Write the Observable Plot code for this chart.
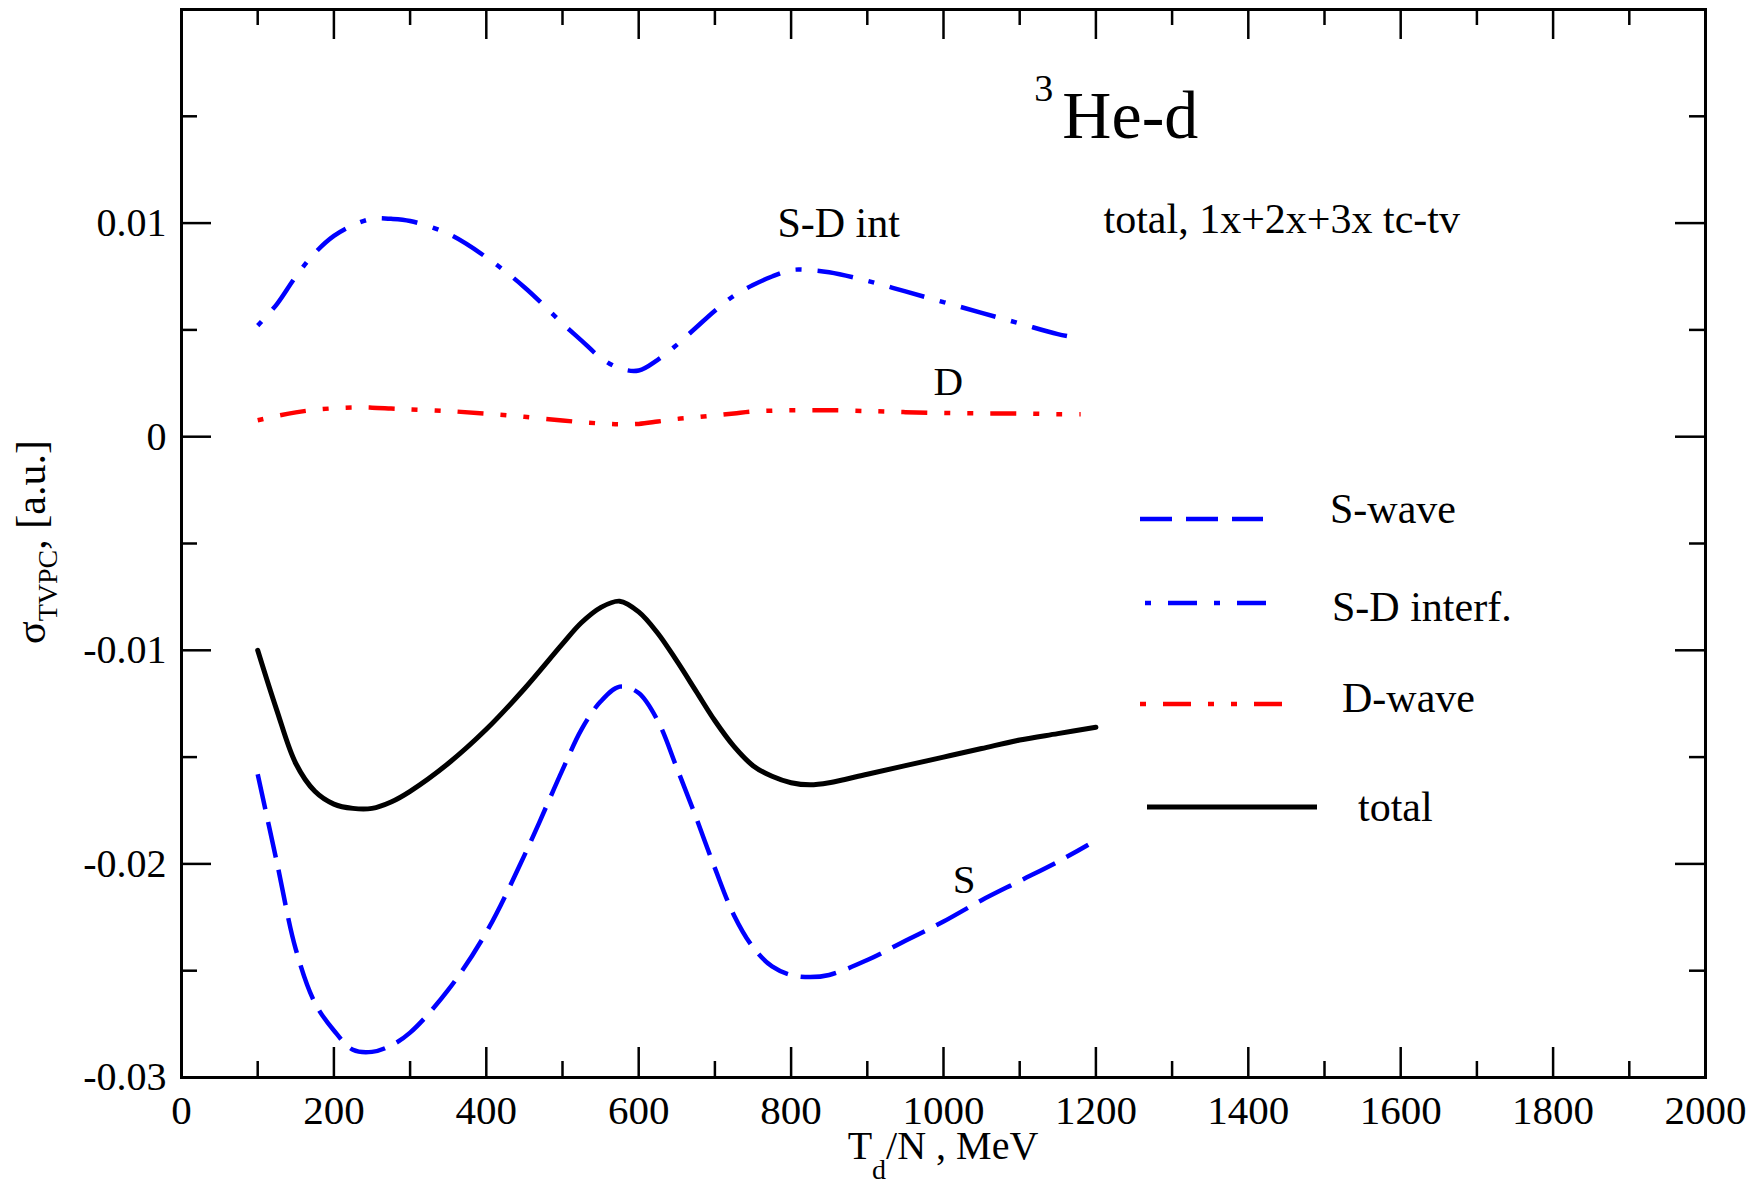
<!DOCTYPE html>
<html>
<head>
<meta charset="utf-8">
<script src="https://cdn.jsdelivr.net/npm/d3@7"></script>
<script src="https://cdn.jsdelivr.net/npm/@observablehq/plot@0.6"></script>
<style>
  html, body { margin: 0; padding: 0; background: #fff; }
  #chart svg { display: block; }
</style>
</head>
<body>
<div id="chart"></div>
<script>
// ---- data ----
const energy = [100,125,150,175,200,225,250,275,300,350,400,450,500,525,550,575,600,625,650,675,700,725,750,775,800,825,850,900,950,1000,1050,1100,1150];
const energyS = [...energy, 1190];
const energySD = [...energy, 1180];
const energyD = [...energy, 1180];
const energyTotal = [...energy, 1200];

const sWave = [-0.0158,-0.0199,-0.0240,-0.0265,-0.0278,-0.0287,-0.0288,-0.0285,-0.0279,-0.0259,-0.0232,-0.0196,-0.0156,-0.0137,-0.0124,-0.0117,-0.0120,-0.0133,-0.0155,-0.0178,-0.0202,-0.0224,-0.0239,-0.0248,-0.0252,-0.0253,-0.0252,-0.0245,-0.0236,-0.0227,-0.0217,-0.0208,-0.0199,-0.0191];
const sdInterf = [0.0052,0.0062,0.0075,0.0086,0.0094,0.0099,0.0102,0.0102,0.0101,0.0095,0.0084,0.0070,0.0053,0.0045,0.0037,0.0032,0.0031,0.0036,0.0043,0.0051,0.0059,0.0066,0.0071,0.0075,0.0078,0.0078,0.0077,0.0073,0.0068,0.0063,0.0058,0.0053,0.0048,0.0046];
const dWave = [0.00077,0.00097,0.00114,0.00126,0.00133,0.00137,0.00136,0.00132,0.00128,0.0012,0.00108,0.00093,0.00076,0.00068,0.00062,0.00058,0.0006,0.00071,0.00083,0.00091,0.001,0.00109,0.00118,0.00122,0.00124,0.00124,0.00124,0.0012,0.00115,0.00111,0.00109,0.00109,0.00105,0.00105];
const total = [-0.0100,-0.0128,-0.0153,-0.0166,-0.0172,-0.0174,-0.0174,-0.0171,-0.0166,-0.0153,-0.0137,-0.0118,-0.0097,-0.0087,-0.0080,-0.0077,-0.0082,-0.0092,-0.0105,-0.0119,-0.0133,-0.0145,-0.0154,-0.0159,-0.0162,-0.0163,-0.0162,-0.0158,-0.0154,-0.0150,-0.0146,-0.0142,-0.0139,-0.0136];

const xMajor = [0,200,400,600,800,1000,1200,1400,1600,1800,2000];
const xMinor = [100,300,500,700,900,1100,1300,1500,1700,1900];
const yMajor = [-0.03,-0.02,-0.01,0,0.01,0.02];
const yMinor = [-0.025,-0.015,-0.005,0.005,0.015];
const yLabels = ["-0.03","-0.02","-0.01","0","0.01"];

const legendLabels = ["S-wave","S-D interf.","D-wave","total"];

// ---- styles ----
const FONT = "'Liberation Serif', 'Times New Roman', serif";
const W = 1755, H = 1189;
const mL = 181, mR = 50, mT = 9, mB = 112;
const FW = W - mL - mR, FH = H - mT - mB;
const MAJ = 30, MIN = 16;

const dashS = "36,13";
const dashSD = "6,16,36,16";
const dashD = "6,17,26,17,6,17";
const legDashS = "32,14";
const legDashSD = "6,17,29,17";
const legDashD = "6,17,28,17,6,17";

const toRows = (xs, ys) => xs.map((x, i) => ({x, y: ys[i]}));

const chart = Plot.plot({
  width: W, height: H,
  marginLeft: mL, marginRight: mR, marginTop: mT, marginBottom: mB,
  style: {fontFamily: FONT, background: "#fff", color: "#000"},
  x: {domain: [0, 2000]},
  y: {domain: [-0.03, 0.02]},
  marks: [
    // tick labels
    Plot.axisX(xMajor, {anchor: "bottom", tickSize: 0, tickPadding: 17, fontSize: 41, tickFormat: d => String(d), label: null}),
    Plot.axisY(yMajor.slice(0, 5), {anchor: "left", tickSize: 0, tickPadding: 15, fontSize: 40, tickFormat: (d, i) => yLabels[i], label: null}),
    // inward ticks, all four sides
    Plot.tickX(xMajor, {x: d => d, insetTop: FH - MAJ, strokeWidth: 2.5}),
    Plot.tickX(xMinor, {x: d => d, insetTop: FH - MIN, strokeWidth: 2.5}),
    Plot.tickX(xMajor, {x: d => d, insetBottom: FH - MAJ, strokeWidth: 2.5}),
    Plot.tickX(xMinor, {x: d => d, insetBottom: FH - MIN, strokeWidth: 2.5}),
    Plot.tickY(yMajor, {y: d => d, insetRight: FW - MAJ, strokeWidth: 2.5}),
    Plot.tickY(yMinor, {y: d => d, insetRight: FW - MIN, strokeWidth: 2.5}),
    Plot.tickY(yMajor, {y: d => d, insetLeft: FW - MAJ, strokeWidth: 2.5}),
    Plot.tickY(yMinor, {y: d => d, insetLeft: FW - MIN, strokeWidth: 2.5}),
    // curves
    Plot.line(toRows(energySD, sdInterf), {x: "x", y: "y", stroke: "#0000ff", strokeWidth: 4.5, strokeDasharray: dashSD, strokeLinecap: "butt", curve: "catmull-rom"}),
    Plot.line(toRows(energyD, dWave), {x: "x", y: "y", stroke: "#ff0000", strokeWidth: 4.5, strokeDasharray: dashD, strokeLinecap: "butt", curve: "catmull-rom"}),
    Plot.line(toRows(energyTotal, total), {x: "x", y: "y", stroke: "#000", strokeWidth: 5, curve: "catmull-rom"}),
    Plot.line(toRows(energyS, sWave), {x: "x", y: "y", stroke: "#0000ff", strokeWidth: 4.5, strokeDasharray: dashS, strokeLinecap: "butt", curve: "catmull-rom"}),
    // in-plot annotations
    Plot.text(["S-D int"], {x: 782, y: 0.00934, text: d => d, textAnchor: "start", lineAnchor: "bottom", fontSize: 42}),
    Plot.text(["D"], {x: 987, y: 0.00194, text: d => d, textAnchor: "start", lineAnchor: "bottom", fontSize: 41}),
    Plot.text(["S"], {x: 1012, y: -0.02137, text: d => d, textAnchor: "start", lineAnchor: "bottom", fontSize: 41}),
    Plot.text(["total, 1x+2x+3x tc-tv"], {x: 1210, y: 0.00953, text: d => d, textAnchor: "start", lineAnchor: "bottom", fontSize: 42}),
    Plot.text(["He-d"], {x: 1156, y: 0.01397, text: d => d, textAnchor: "start", lineAnchor: "bottom", fontSize: 68}),
    Plot.text(["3"], {x: 1119, y: 0.0157, text: d => d, textAnchor: "start", lineAnchor: "bottom", fontSize: 38}),
    Plot.frame({stroke: "#000", strokeWidth: 3})
  ]
});

document.getElementById("chart").appendChild(chart);

// ---- axis titles with sub-scripts and the legend ----
const svg = d3.select(chart);

const yt = svg.append("text")
  .attr("transform", "translate(45,542) rotate(-90)")
  .attr("text-anchor", "middle")
  .attr("font-family", FONT).attr("font-size", 42).attr("fill", "#000");
yt.append("tspan").text("σ");
yt.append("tspan").attr("font-size", 28).attr("dy", 12).text("TVPC");
yt.append("tspan").attr("dy", -12).text(", [a.u.]");

const xt = svg.append("text")
  .attr("x", mL + FW / 2).attr("y", 1159)
  .attr("text-anchor", "middle")
  .attr("font-family", FONT).attr("font-size", 40).attr("fill", "#000");
xt.append("tspan").text("T");
xt.append("tspan").attr("font-size", 28).attr("dy", 20).text("d");
xt.append("tspan").attr("dy", -20).text("/N , MeV");

const legendLines = [
  {x1: 1140, x2: 1263, y: 519, stroke: "#0000ff", dash: legDashS, w: 4.5, tx: 1330, ty: 523},
  {x1: 1145, x2: 1266, y: 603, stroke: "#0000ff", dash: legDashSD, w: 4.5, tx: 1332, ty: 621},
  {x1: 1140, x2: 1284, y: 704, stroke: "#ff0000", dash: legDashD, w: 4.5, tx: 1342, ty: 712},
  {x1: 1147, x2: 1317, y: 807, stroke: "#000", dash: null, w: 5, tx: 1358, ty: 821}
];
const lg = svg.append("g").attr("class", "legend");
legendLines.forEach((d, i) => {
  lg.append("line")
    .attr("x1", d.x1).attr("x2", d.x2).attr("y1", d.y).attr("y2", d.y)
    .attr("stroke", d.stroke).attr("stroke-width", d.w)
    .attr("stroke-dasharray", d.dash).attr("stroke-linecap", "butt");
  lg.append("text")
    .attr("x", d.tx).attr("y", d.ty)
    .attr("text-anchor", "start")
    .attr("font-family", FONT).attr("font-size", 42).attr("fill", "#000")
    .text(legendLabels[i]);
});
</script>
</body>
</html>
